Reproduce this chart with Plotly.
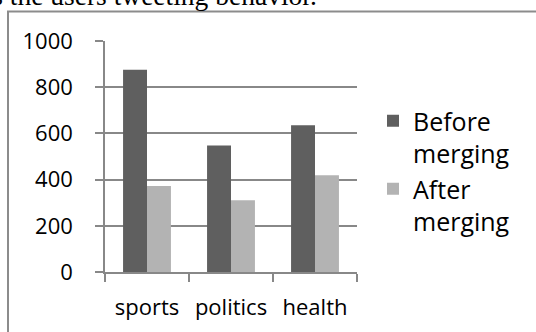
import plotly.graph_objects as go

categories = ["sports", "politics", "health"]
before_vals = [876, 548, 635]
after_vals = [372, 311, 419]
series_names = ["Before<br>merging", "After<br>merging"]
y_ticks = [0, 200, 400, 600, 800, 1000]
caption = "as the users tweeting behavior."

W, H = 536, 332
L, R, T, B = 105, 179, 41, 60
pw = W - L - R
ph = H - T - B

def px_x(x):
    return (x - L) / pw

def px_y(y):
    return 1 - (y - T) / ph

FONT = "Open Sans"
GRID = "#888888"

fig = go.Figure()
fig.add_trace(go.Bar(x=categories, y=before_vals, name=series_names[0],
                     marker=dict(color="#5f5f5f", line=dict(width=0))))
fig.add_trace(go.Bar(x=categories, y=after_vals, name=series_names[1],
                     marker=dict(color="#b3b3b3", line=dict(width=0))))

fig.update_layout(
    width=W, height=H,
    margin=dict(l=L, r=R, t=T, b=B),
    paper_bgcolor="white", plot_bgcolor="white",
    barmode="group", bargap=0.43, bargroupgap=0,
    font=dict(family=FONT, size=22, color="black"),
    showlegend=True,
    legend=dict(x=px_x(373), y=px_y(98), xanchor="left", yanchor="top",
                valign="top", tracegroupgap=2, font=dict(size=25),
                bgcolor="rgba(0,0,0,0)", itemwidth=30),
    xaxis=dict(type="category", showgrid=False, showline=True, linecolor=GRID,
               linewidth=1.5, ticks="outside", tickson="boundaries", ticklen=8,
               tickcolor=GRID, tickwidth=1.5, ticklabelstandoff=15,
               tickfont=dict(size=22)),
    yaxis=dict(range=[0, 1000], tickvals=y_ticks, showgrid=True, gridcolor=GRID,
               gridwidth=1.5, showline=True, linecolor=GRID, linewidth=1.5,
               ticks="outside", ticklen=8, tickcolor=GRID, tickwidth=1.5,
               ticklabelstandoff=18, zeroline=False, tickfont=dict(size=22)),
)

fig.add_shape(type="rect", xref="paper", yref="paper",
              x0=px_x(8), x1=px_x(700), y0=px_y(11.5), y1=px_y(500),
              line=dict(color="#8c8c8c", width=2), fillcolor="rgba(0,0,0,0)",
              layer="above")

fig.add_annotation(text=caption, xref="paper", yref="paper",
                   x=px_x(319), y=px_y(13), xanchor="right", yanchor="bottom",
                   showarrow=False,
                   font=dict(family="Liberation Serif", size=27.5, color="black"))

fig.write_html("out.html")
